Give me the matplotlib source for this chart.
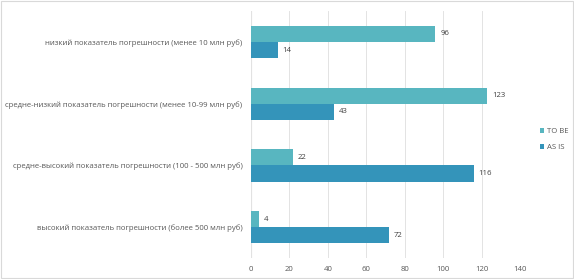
import numpy as np
import matplotlib
matplotlib.use("Agg")
from matplotlib import pyplot as plt
from matplotlib.patches import Rectangle

categories = [
    "низкий показатель погрешности (менее 10 млн руб)",
    "средне-низкий показатель погрешности (менее 10-99 млн руб)",
    "средне-высокий показатель погрешности (100 - 500 млн руб)",
    "высокий показатель погрешности (более 500 млн руб)",
]
to_be = [96, 123, 22, 4]
as_is = [14, 43, 116, 72]
xticks = [0, 20, 40, 60, 80, 100, 120, 140]

plt.rcParams['font.family'] = ['Open Sans', 'DejaVu Sans']

fig = plt.figure(figsize=(5.74, 2.79), dpi=100)
ax = fig.add_axes([0.437, 0.075, 0.469, 0.885])

y = np.arange(len(categories))
h = 0.26
c_tobe = '#58B6C0'
c_asis = '#3494BA'
b1 = ax.barh(y - h / 2, to_be, height=h, color=c_tobe, label='TO BE')
b2 = ax.barh(y + h / 2, as_is, height=h, color=c_asis, label='AS IS')

for bars, vals in ((b1, to_be), (b2, as_is)):
    for bar, v in zip(bars, vals):
        ax.text(v + 2.5, bar.get_y() + bar.get_height() / 2, str(v),
                va='center', ha='left', fontsize=5.6, color='#404040')

ax.set_ylim(len(categories) - 0.5, -0.5)
ax.set_xlim(0, 140)
ax.set_xticks(xticks)
ax.set_yticks(y)
ax.set_yticklabels(categories)
ax.tick_params(axis='both', length=0, labelsize=5.6, labelcolor='#595959')
ax.tick_params(axis='x', pad=6)
ax.tick_params(axis='y', pad=6)
ax.grid(axis='x', color='#E3E3E3', linewidth=0.7)
ax.set_axisbelow(True)
for s in ax.spines.values():
    s.set_visible(False)
ax.axvline(0, color='#D9D9D9', linewidth=0.8, zorder=0.5)

leg = fig.legend(loc='center left', bbox_to_anchor=(0.928, 0.5), frameon=False,
                 fontsize=5.6, handlelength=0.6, handleheight=0.6,
                 handletextpad=0.3, labelspacing=1.2)
for t in leg.get_texts():
    t.set_color('#595959')

fig.patches.append(Rectangle((0.002, 0.004), 0.996, 0.992, transform=fig.transFigure,
                             fill=False, edgecolor='#D9D9D9', linewidth=0.8))

fig.savefig("out.png", dpi=100)
